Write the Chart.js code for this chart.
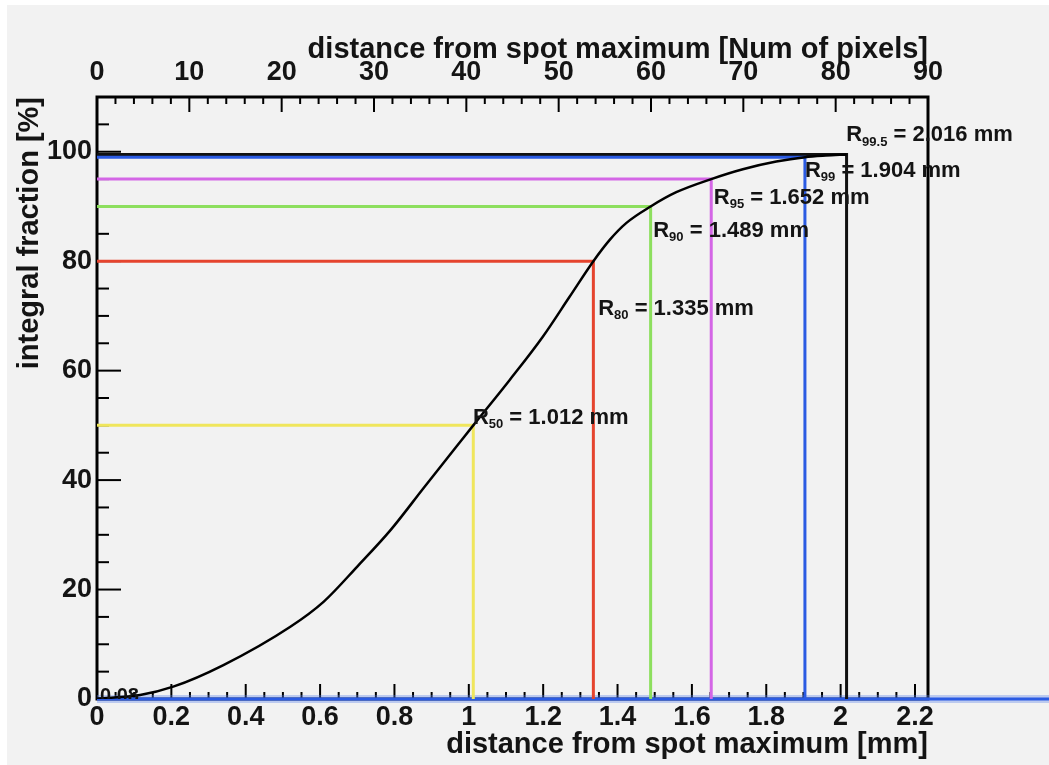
<!DOCTYPE html>
<html>
<head>
<meta charset="utf-8">
<title>Integral fraction vs distance from spot maximum</title>
<script src="https://cdn.jsdelivr.net/npm/chart.js@4.4.1/dist/chart.umd.min.js"></script>
<style>
  html, body { margin: 0; padding: 0; background: #fff; }
  .plot {
    position: absolute;
    left: 7px;
    top: 5px;
    width: 1042px;
    height: 760px;
    background: #f2f2f2;
  }
</style>
</head>
<body>
<div class="plot"><canvas id="profile"></canvas></div>
<script>
  // cumulative profile: distance from spot maximum [mm] -> integral fraction [%]
  const distMm   = [0, 0.116, 0.205, 0.34, 0.52, 0.61, 0.70, 0.79, 0.879, 0.970, 1.012, 1.11, 1.199, 1.271,
                    1.335, 1.379, 1.424, 1.489, 1.558, 1.652, 1.737, 1.827, 1.904, 1.96, 2.016];
  const fraction = [0.08, 0.73, 2.25, 6.2, 13.2, 17.8, 24.2, 30.9, 38.6, 46.4, 50, 58.3, 66.2, 73.5,
                    80, 83.9, 87, 90, 92.6, 95, 96.8, 98.2, 99, 99.3, 99.5];

  // containment radii
  const levels     = [50, 80, 90, 95, 99, 99.5];
  const radii      = [1.012, 1.335, 1.489, 1.652, 1.904, 2.016];
  const levelNames = ['50', '80', '90', '95', '99', '99.5'];
  const levelColors = ['#f0e65c', '#e5442e', '#8ddf5e', '#d466e6', '#2b5be3', '#111111'];

  // where each "R_xx = ..." label sits (data units: text start, text middle)
  const labelAtX = [1.011, 1.348, 1.496, 1.659, 1.904, 2.015];
  const labelAtY = [51.4, 71.3, 85.6, 91.6, 96.5, 103];

  const startValue = '0.08';

  // axes
  const X_MAX = 2.235;      // mm, = 90 pixels on the top axis
  const PIX_MAX = 90;
  const Y_MAX = 110;

  const FONT = "'Liberation Sans', Arial, Helvetica, sans-serif";
  const INK = '#141414';
  const tickFont = { family: FONT, size: 27, weight: 'bold' };
  const titleFont = { family: FONT, size: 29, weight: 'bold' };

  const pts = (xs, ys) => xs.map((x, i) => ({ x, y: ys[i] }));
  const plainNumber = v => String(+v.toFixed(2));

  const datasets = [
    {
      data: pts(distMm, fraction),
      borderColor: '#000',
      borderWidth: 2.5,
      cubicInterpolationMode: 'monotone'
    }
  ];
  levels.forEach((lv, i) => {
    datasets.push({
      data: [{ x: 0, y: lv }, { x: radii[i], y: lv }, { x: radii[i], y: 0 }],
      borderColor: levelColors[i],
      borderWidth: 3
    });
  });
  // baseline at zero, runs out past the frame
  datasets.push({
    data: [{ x: 0, y: 0 }, { x: 2.6, y: 0 }],
    borderColor: '#2b5be3',
    borderWidth: 3,
    clip: false
  });
  datasets.push({
    data: [{ x: 0, y: 0 }, { x: 2.6, y: 0 }],
    borderColor: 'rgba(90,130,235,0.35)',
    borderWidth: 8,
    clip: false
  });

  function drawTicks(ctx, scale, count, step, majorEvery, lenMajor, lenMinor, side, area) {
    for (let i = 0; i <= count; i++) {
      const v = i * step;
      const p = scale.getPixelForValue(v);
      const len = i % majorEvery === 0 ? lenMajor : lenMinor;
      ctx.beginPath();
      if (side === 'bottom') { ctx.moveTo(p, area.bottom); ctx.lineTo(p, area.bottom - len); }
      if (side === 'top')    { ctx.moveTo(p, area.top);    ctx.lineTo(p, area.top + len); }
      if (side === 'left')   { ctx.moveTo(area.left, p);   ctx.lineTo(area.left + len, p); }
      ctx.stroke();
    }
  }

  const frameTicks = {
    id: 'frameTicks',
    beforeDatasetsDraw(chart) {
      const { ctx, chartArea: a, scales } = chart;
      ctx.save();
      ctx.strokeStyle = '#000';
      ctx.lineWidth = 2;
      drawTicks(ctx, scales.x, 44, 0.05, 4, 15, 7, 'bottom', a);
      drawTicks(ctx, scales.x2, 45, 2, 5, 15, 7, 'top', a);
      drawTicks(ctx, scales.y, 22, 5, 4, 24, 12, 'left', a);
      ctx.lineWidth = 3;
      ctx.strokeRect(a.left, a.top, a.right - a.left, a.bottom - a.top);
      ctx.restore();
    },
    afterDatasetsDraw(chart) {
      const { ctx, chartArea: a, scales } = chart;
      const xs = scales.x, ys = scales.y;
      ctx.save();
      ctx.fillStyle = INK;
      ctx.textBaseline = 'middle';
      ctx.textAlign = 'left';
      levels.forEach((lv, i) => {
        let x = xs.getPixelForValue(labelAtX[i]);
        const y = ys.getPixelForValue(labelAtY[i]);
        ctx.font = `bold 22px ${FONT}`;
        ctx.fillText('R', x, y);
        x += ctx.measureText('R').width;
        ctx.font = `bold 13px ${FONT}`;
        ctx.fillText(levelNames[i], x, y + 7);
        x += ctx.measureText(levelNames[i]).width;
        ctx.font = `bold 22px ${FONT}`;
        ctx.fillText(' = ' + radii[i].toFixed(3) + ' mm', x, y);
      });

      // value at the origin, half hidden under the baseline
      ctx.beginPath();
      ctx.rect(a.left, a.top, a.right - a.left, a.bottom - a.top);
      ctx.clip();
      ctx.font = `bold 20px ${FONT}`;
      ctx.textBaseline = 'alphabetic';
      ctx.fillText(startValue, xs.getPixelForValue(0.008), ys.getPixelForValue(0) + 3);
      ctx.restore();
    }
  };

  new Chart(document.getElementById('profile'), {
    type: 'scatter',
    data: { datasets },
    options: {
      responsive: true,
      maintainAspectRatio: false,
      animation: false,
      showLine: true,
      elements: { point: { radius: 0, hoverRadius: 0 }, line: { tension: 0 } },
      layout: { padding: { left: 0, top: 0, right: 121, bottom: 0 } },
      plugins: { legend: { display: false }, tooltip: { enabled: false } },
      scales: {
        x: {
          type: 'linear',
          position: 'bottom',
          min: 0,
          max: X_MAX,
          grid: { display: false, drawTicks: false },
          border: { display: false },
          ticks: { stepSize: 0.2, includeBounds: false, autoSkip: false, maxRotation: 0,
                   font: tickFont, color: INK, padding: 2, callback: plainNumber },
          title: { display: true, text: 'distance from spot maximum [mm]', align: 'end',
                   font: titleFont, color: INK, padding: { top: 0, bottom: 3 } },
          afterFit(s) { s.height = 66; }
        },
        x2: {
          type: 'linear',
          position: 'top',
          min: 0,
          max: PIX_MAX,
          grid: { display: false, drawTicks: false },
          border: { display: false },
          ticks: { stepSize: 10, includeBounds: false, autoSkip: false, maxRotation: 0,
                   font: tickFont, color: INK, padding: 8, callback: plainNumber },
          title: { display: true, text: 'distance from spot maximum [Num of pixels]', align: 'end',
                   font: titleFont, color: INK, padding: { top: 28, bottom: 0 } },
          afterFit(s) { s.height = 92; }
        },
        y: {
          type: 'linear',
          position: 'left',
          min: 0,
          max: Y_MAX,
          grid: { display: false, drawTicks: false },
          border: { display: false },
          ticks: { stepSize: 20, includeBounds: false, font: tickFont, color: INK, padding: 5,
                   callback: plainNumber },
          title: { display: true, text: 'integral fraction [%]', align: 'end',
                   font: titleFont, color: INK, padding: { top: 6, bottom: 0 } },
          afterFit(s) { s.width = 90; }
        }
      }
    },
    plugins: [frameTicks]
  });
</script>
</body>
</html>
